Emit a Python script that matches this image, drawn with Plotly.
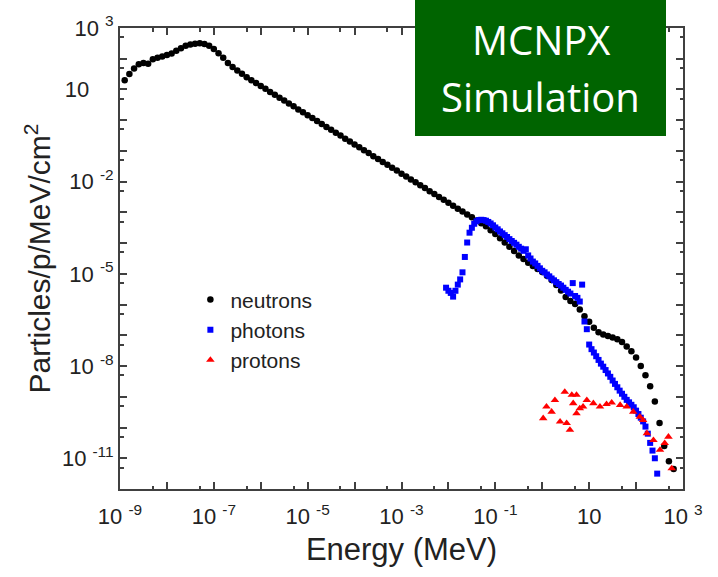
import plotly.graph_objects as go

# ---------------- data (log10 values) ----------------
neutron_logE = [-8.9, -8.8, -8.7, -8.6, -8.5, -8.4, -8.3, -8.2, -8.1, -8.0,
                -7.9, -7.8, -7.7, -7.6, -7.5, -7.4, -7.3, -7.2, -7.1, -7.0,
                -6.9, -6.8, -6.7, -6.6, -6.5, -6.4, -6.3, -6.2, -6.1, -6.0,
                -5.9, -5.8, -5.7, -5.6, -5.5, -5.4, -5.3, -5.2, -5.1, -5.0,
                -4.9, -4.8, -4.7, -4.6, -4.5, -4.4, -4.3, -4.2, -4.1, -4.0,
                -3.9, -3.8, -3.7, -3.6, -3.5, -3.4, -3.3, -3.2, -3.1, -3.0,
                -2.9, -2.8, -2.7, -2.6, -2.5, -2.4, -2.3, -2.2, -2.1, -2.0,
                -1.9, -1.8, -1.7, -1.6, -1.5, -1.4, -1.3, -1.2, -1.1, -1.0,
                -0.9, -0.8, -0.7, -0.6, -0.5, -0.4, -0.3, -0.2, -0.1, 0.0,
                0.1, 0.2, 0.3, 0.4, 0.5, 0.6, 0.7, 0.8, 0.9, 1.0,
                1.1, 1.2, 1.3, 1.4, 1.5, 1.6, 1.7, 1.8, 1.9, 2.0,
                2.1, 2.2, 2.3, 2.4, 2.5, 2.6, 2.7, 2.8]
neutron_logF = [1.30, 1.50, 1.68, 1.82, 1.86, 1.84, 1.98, 2.03, 2.07, 2.12,
                2.17, 2.26, 2.34, 2.42, 2.46, 2.49, 2.50, 2.48, 2.42, 2.32,
                2.18, 2.03, 1.86, 1.73, 1.62, 1.51, 1.40, 1.30, 1.21, 1.11,
                1.02, 0.92, 0.83, 0.73, 0.64, 0.54, 0.45, 0.35, 0.26, 0.16,
                0.07, -0.03, -0.12, -0.22, -0.31, -0.41, -0.50, -0.60, -0.69, -0.79,
                -0.88, -0.98, -1.07, -1.17, -1.26, -1.36, -1.45, -1.55, -1.64, -1.74,
                -1.83, -1.93, -2.02, -2.12, -2.21, -2.31, -2.40, -2.50, -2.59, -2.69,
                -2.78, -2.88, -2.97, -3.07, -3.16, -3.26, -3.35, -3.45, -3.58, -3.70,
                -3.84, -3.98, -4.12, -4.26, -4.40, -4.52, -4.64, -4.74, -4.84, -4.94,
                -5.06, -5.20, -5.36, -5.54, -5.75, -5.88, -5.98, -6.16, -6.38, -6.56,
                -6.75, -6.90, -6.97, -7.02, -7.07, -7.13, -7.22, -7.36, -7.52, -7.72,
                -8.00, -8.30, -8.66, -9.15, -9.85, -10.60, -11.10, -11.35]

photon_logE = [-2.05, -2.00, -1.95, -1.90, -1.85, -1.80, -1.75, -1.70, -1.65, -1.60,
               -1.55, -1.50, -1.45, -1.40, -1.35, -1.30, -1.25, -1.20, -1.15, -1.10,
               -1.05, -1.00, -0.95, -0.90, -0.85, -0.80, -0.75, -0.70, -0.65, -0.60,
               -0.55, -0.50, -0.45, -0.40, -0.35, -0.30, -0.25, -0.20, -0.15, -0.10,
               -0.05, 0.00, 0.05, 0.10, 0.15, 0.20, 0.25, 0.30, 0.35, 0.40,
               0.45, 0.50, 0.55, 0.60, 0.65, 0.70, 0.75, 0.80, 0.85, 0.90,
               0.95, 1.00, 1.05, 1.10, 1.15, 1.20, 1.25, 1.30, 1.35, 1.40,
               1.45, 1.50, 1.55, 1.60, 1.65, 1.70, 1.75, 1.80, 1.85, 1.90,
               1.95, 2.00, 2.05, 2.10, 2.15, 2.20, 2.25, 2.30, 2.35, 2.40, 2.45]
photon_logF = [-5.45, -5.55, -5.62, -5.74, -5.55, -5.35, -5.18, -4.95, -4.45, -3.98,
               -3.66, -3.50, -3.37, -3.29, -3.25, -3.24, -3.25, -3.27, -3.31, -3.36,
               -3.42, -3.49, -3.55, -3.62, -3.68, -3.74, -3.80, -3.87, -3.93, -3.99,
               -4.05, -4.12, -4.18, -4.25, -4.20, -4.40, -4.50, -4.60, -4.66, -4.74,
               -4.82, -4.90, -4.95, -5.02, -5.08, -5.15, -5.21, -5.27, -5.33, -5.38,
               -5.45, -5.52, -5.58, -5.64, -5.30, -5.72, -5.78, -5.90, -5.35, -6.55,
               -6.80, -7.30, -7.45, -7.56, -7.68, -7.80, -7.92, -8.02, -8.13, -8.24,
               -8.35, -8.47, -8.58, -8.69, -8.80, -8.90, -9.00, -9.10, -9.18, -9.26,
               -9.34, -9.45, -9.56, -9.68, -9.80, -9.97, -10.20, -10.50, -10.75, -11.00, -11.50]

proton_logE = [0.02, 0.09, 0.20, 0.27, 0.38, 0.48, 0.52, 0.59, 0.63, 0.66,
               0.73, 0.73, 0.80, 0.87, 0.95, 1.09, 1.23, 1.37, 1.48, 1.66,
               1.80, 1.94, 2.08, 2.15, 2.23, 2.37, 2.51, 2.61, 2.69, 2.76]
proton_logF = [-9.70, -9.32, -9.49, -9.11, -9.81, -8.84, -9.86, -10.08, -8.94, -9.21,
               -8.94, -9.54, -9.38, -9.32, -9.11, -9.21, -9.32, -9.24, -9.19, -9.27,
               -9.32, -9.49, -9.65, -9.76, -10.19, -10.41, -10.73, -10.51, -10.30, -11.33]

x_tick_exp = [-9, -8, -7, -6, -5, -4, -3, -2, -1, 0, 1, 2, 3]
x_tick_text = ["10\u00a0<sup>-9</sup>", "", "10\u00a0<sup>-7</sup>", "", "10\u00a0<sup>-5</sup>", "",
               "10\u00a0<sup>-3</sup>", "", "10\u00a0<sup>-1</sup>", "", "10", "", "10\u00a0<sup>3</sup>"]
y_tick_exp = [-12, -11, -10, -9, -8, -7, -6, -5, -4, -3, -2, -1, 0, 1, 2, 3]
y_tick_text = ["", "10\u00a0<sup>-11</sup>", "", "", "10\u00a0<sup>-8</sup>", "", "", "10\u00a0<sup>-5</sup>", "",
               "", "10\u00a0<sup>-2</sup>", "", "", "10\u00a0\u00a0\u00a0\u00a0", "", "10\u00a0<sup>3</sup>"]


def pw(vals):
    return [10 ** v for v in vals]


fig = go.Figure()
fig.add_trace(go.Scatter(x=pw(neutron_logE), y=pw(neutron_logF), mode="markers", name="neutrons",
                         marker=dict(symbol="circle", size=6.5, color="black")))
fig.add_trace(go.Scatter(x=pw(photon_logE), y=pw(photon_logF), mode="markers", name="photons",
                         marker=dict(symbol="square", size=6, color="#0000ff")))
fig.add_trace(go.Scatter(x=pw(proton_logE), y=pw(proton_logF), mode="markers", name="protons",
                         marker=dict(symbol="triangle-up", size=7.5, color="#ff0000")))

axis_col = "#404040"
tickfont = dict(family="Liberation Sans, Arial, sans-serif", size=22, color="#222")

fig.update_layout(
    width=718, height=577, autosize=False,
    margin=dict(l=120, r=35, t=28, b=88),
    paper_bgcolor="white", plot_bgcolor="white",
    font=dict(family="Liberation Sans, Arial, sans-serif", color="#222"),
    showlegend=True,
    legend=dict(x=0.125, y=0.455, xanchor="left", yanchor="top", bgcolor="rgba(0,0,0,0)",
                font=dict(size=21, family="Liberation Sans, Arial, sans-serif", color="#222"),
                tracegroupgap=0, itemwidth=30),
    xaxis=dict(type="log", range=[-9, 3], tickmode="array",
               tickvals=pw(x_tick_exp), ticktext=x_tick_text,
               ticks="inside", ticklen=7, tickwidth=1.5, tickcolor=axis_col,
               showline=True, linecolor=axis_col, linewidth=2, mirror="ticks",
               showgrid=False, zeroline=False, tickfont=tickfont, ticklabelstandoff=7,
               minor=dict(tickvals=[5 * 10 ** v for v in x_tick_exp[:-1]], ticks="inside",
                          ticklen=3.5, tickwidth=1.5, tickcolor=axis_col, showgrid=False),
               title=dict(text="Energy (MeV)", font=dict(size=31), standoff=10)),
    yaxis=dict(type="log", range=[-12, 3], tickmode="array",
               tickvals=pw(y_tick_exp), ticktext=y_tick_text,
               ticks="inside", ticklen=7, tickwidth=1.5, tickcolor=axis_col,
               showline=True, linecolor=axis_col, linewidth=2, mirror="ticks",
               showgrid=False, zeroline=False, tickfont=tickfont,
               minor=dict(tickvals=[5 * 10 ** v for v in y_tick_exp[:-1]], ticks="inside",
                          ticklen=3.5, tickwidth=1.5, tickcolor=axis_col, showgrid=False),
               title=dict(text="Particles/p/MeV/cm<sup>2</sup>", font=dict(size=30), standoff=2)),
)

# green label box
fig.add_shape(type="rect", xref="paper", yref="paper",
              x0=(415 - 120) / 563, x1=(666 - 120) / 563,
              y0=(489 - 136) / 461, y1=(489 - 0) / 461,
              fillcolor="#006400", line=dict(width=0), layer="above")
fig.add_annotation(xref="paper", yref="paper", x=(540.5 - 120) / 563, y=(489 - 39) / 461,
                   text="MCNPX", showarrow=False, xanchor="center", yanchor="middle",
                   font=dict(family="Open Sans, Noto Sans, sans-serif", size=40, color="white"))
fig.add_annotation(xref="paper", yref="paper", x=(540.5 - 120) / 563, y=(489 - 96) / 461,
                   text="Simulation", showarrow=False, xanchor="center", yanchor="middle",
                   font=dict(family="Open Sans, Noto Sans, sans-serif", size=40, color="white"))

fig.write_html("out.html")
